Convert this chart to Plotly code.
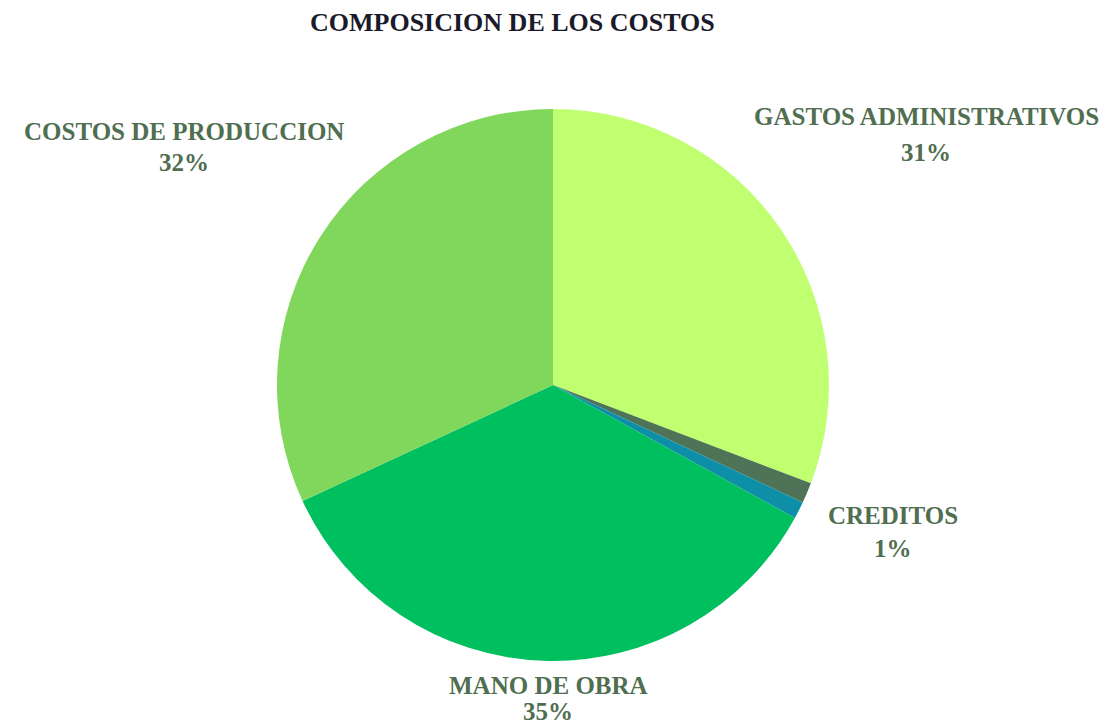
import plotly.graph_objects as go

categories = ["GASTOS ADMINISTRATIVOS", "OTROS", "CREDITOS", "MANO DE OBRA", "COSTOS DE PRODUCCION"]
values = [30.8, 1.2, 1.0, 35.1, 31.9]
colors = ["#C0FF70", "#4F7356", "#0E8FA8", "#00BF5F", "#80D75B"]
show_label = [True, False, True, True, True]
# label centres in page pixels (x, y of name line, y of percent line)
label_pos = {
    "GASTOS ADMINISTRATIVOS": (926, 116, 152),
    "CREDITOS": (893, 515, 548),
    "MANO DE OBRA": (548, 685, 711),
    "COSTOS DE PRODUCCION": (184, 131, 163),
}

OFF = 8  # page body margin
W, H = 1117 - OFF, 727 - OFF
cx, cy, r = 553 - OFF, 385 - OFF, 276

fig = go.Figure(go.Pie(
    labels=categories, values=values, sort=False, direction="clockwise", rotation=0,
    marker=dict(colors=colors, line=dict(width=0)),
    textinfo="none", hoverinfo="label+percent", showlegend=False,
    domain=dict(x=[(cx - r) / W, (cx + r) / W], y=[1 - (cy + r) / H, 1 - (cy - r) / H]),
))

total = sum(values)
font = dict(family="Liberation Serif, Times New Roman, serif", size=25, color="#506E50")
for cat, v, show in zip(categories, values, show_label):
    if not show:
        continue
    x, y1, y2 = label_pos[cat]
    fig.add_annotation(x=(x - OFF) / W, y=1 - (y1 - OFF) / H, xref="paper", yref="paper", text=f"<b>{cat}</b>",
                       showarrow=False, xanchor="center", yanchor="middle", font=font)
    fig.add_annotation(x=(x - OFF) / W, y=1 - (y2 - OFF) / H, xref="paper", yref="paper",
                       text=f"<b>{round(v / total * 100)}%</b>",
                       showarrow=False, xanchor="center", yanchor="middle", font=font)

fig.add_annotation(x=(513 - OFF) / W, y=1 - (23 - OFF) / H, xref="paper", yref="paper",
                   text="<b>COMPOSICION DE LOS COSTOS</b>",
                   showarrow=False, xanchor="center", yanchor="middle",
                   font=dict(family="Liberation Serif, Times New Roman, serif", size=26, color="#1A1A2A"))

fig.update_layout(width=W, height=H, margin=dict(l=0, r=0, t=0, b=0),
                  paper_bgcolor="white", plot_bgcolor="white")
fig.write_html("out.html")
